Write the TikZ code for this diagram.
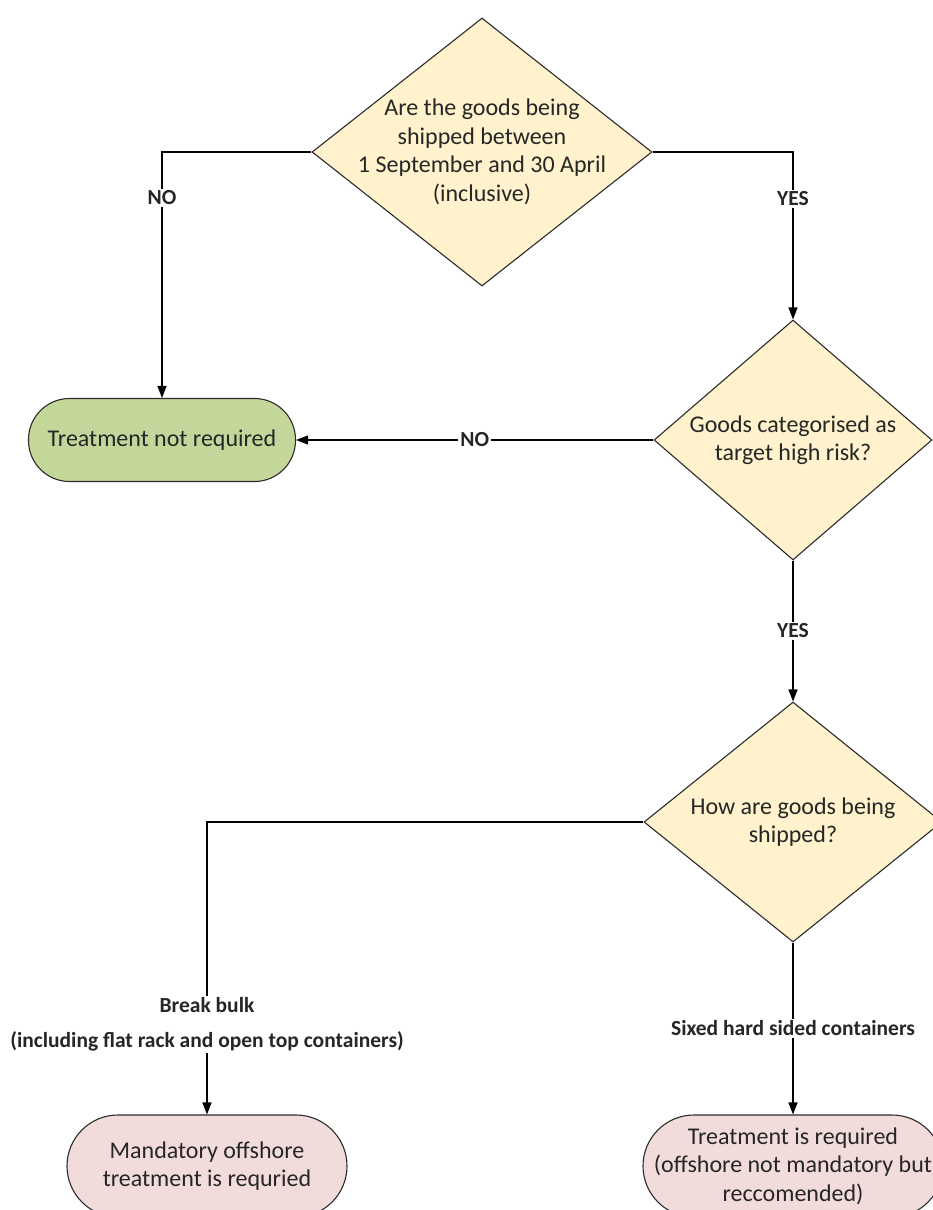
\documentclass[tikz,border=0pt]{standalone}
\usepackage{fontspec}
\setmainfont{Carlito}
\usetikzlibrary{shapes.geometric, arrows.meta, positioning}
\definecolor{qfill}{HTML}{FFF2CC}
\definecolor{okfill}{HTML}{C4D79B}
\definecolor{reqfill}{HTML}{F2DCDB}
\definecolor{edgegray}{HTML}{2B2B2B}
\tikzstyle{decision} = [diamond, draw=edgegray, line width=1.1pt, fill=qfill, inner sep=0pt]
\tikzstyle{qtext} = [align=center, font=\fontsize{24}{28.5}\selectfont, text=black!85]
\tikzstyle{terminal} = [rectangle, draw=edgegray, line width=1.1pt, align=center, font=\fontsize{24}{28.5}\selectfont, text=black!85]
\tikzstyle{answer} = [fill=white, inner sep=2pt, align=center, font=\bfseries\fontsize{21.5}{35}\selectfont, text=black!85]
\tikzstyle{arrow} = [line width=1.2pt, -{Triangle[length=12pt, width=9pt]}]

\begin{document}
\begin{tikzpicture}[x=1pt, y=-1pt, on grid]
        \useasboundingbox (0,0) rectangle (933,1210);
        \node[decision, minimum width=340pt, minimum height=268pt,
              label={[qtext]center:{Are the goods being\\shipped between\\1 September and 30 April\\(inclusive)}}] (season) at (482,152) {};
        \node[decision, minimum width=278pt, minimum height=240pt, below right=288pt and 311pt of season,
              label={[qtext]center:{Goods categorised as\\target high risk?}}] (risk) {};
        \node[terminal, fill=okfill, minimum width=267pt, minimum height=83pt, rounded corners=41pt,
              left=631pt of risk] (notreq) {Treatment not required};
        \node[decision, minimum width=298pt, minimum height=240pt, below=382pt of risk,
              label={[qtext]center:{How are goods being\\shipped?}}] (how) {};
        \node[terminal, fill=reqfill, minimum width=280pt, minimum height=102pt, rounded corners=51pt,
              below left=344pt and 586pt of how] (offshore) {Mandatory offshore\\treatment is requried};
        \node[terminal, fill=reqfill, minimum width=300pt, minimum height=102pt, rounded corners=51pt,
              below=344pt of how] (required) {Treatment is required\\(offshore not mandatory but\\reccomended)};

        \draw[arrow] (season.west) -| node[answer, pos=0.593] {NO} (notreq.north);
        \draw[arrow] (season.east) -| node[answer, pos=0.64] {YES} (risk.north);
        \draw[arrow] (risk.west) -- node[answer] {NO} (notreq.east);
        \draw[arrow] (risk.south) -- node[answer] {YES} (how.north);
        \draw[arrow] (how.west) -| node[answer, pos=0.846] {Break bulk\\(including flat rack and open top containers)} (offshore.north);
        \draw[arrow] (how.south) -- node[answer] {Sixed hard sided containers} (required.north);
    \end{tikzpicture}
\end{document}
